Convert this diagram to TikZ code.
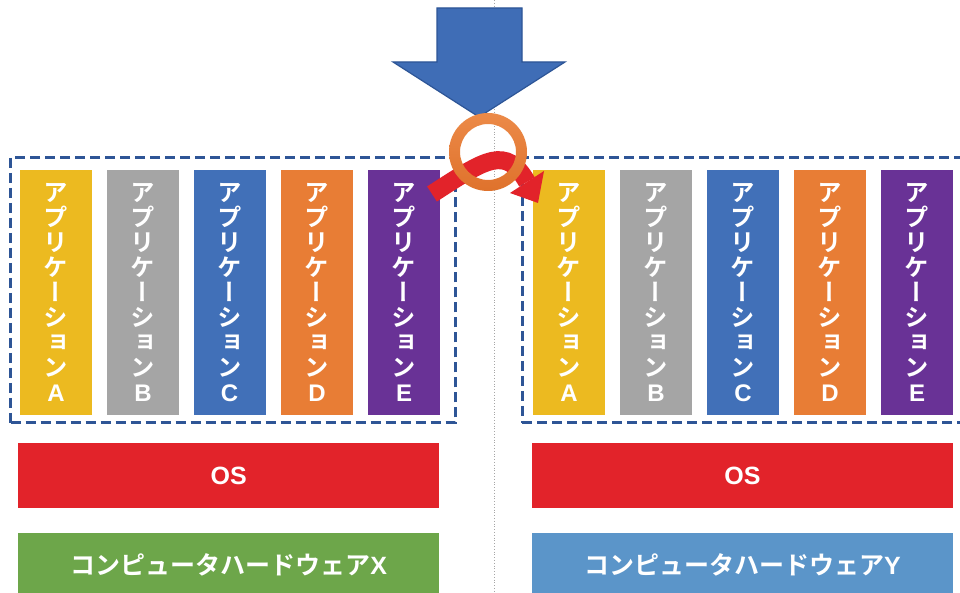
\documentclass[tikz,border=0pt]{standalone}
\usepackage{fontspec}
\newfontfamily\jp{Noto Sans CJK JP Bold}
\newfontfamily\jpv[RawFeature=+vert]{Noto Sans CJK JP Bold}
\newfontfamily\lat{Liberation Sans}
\usetikzlibrary{arrows.meta}
\definecolor{cyel}{HTML}{ECBA20}
\definecolor{cgray}{HTML}{A5A5A5}
\definecolor{cblue}{HTML}{4170B8}
\definecolor{corange}{HTML}{E87D35}
\definecolor{cpurple}{HTML}{693296}
\definecolor{cred}{HTML}{E2232A}
\definecolor{cgreen}{HTML}{6DA64A}
\definecolor{clblue}{HTML}{5B95C9}
\definecolor{cdash}{HTML}{2E5596}
\definecolor{carrow}{HTML}{3F6DB6}
\definecolor{carrowedge}{HTML}{2D5597}
\definecolor{cringtop}{HTML}{EC8A48}
\definecolor{cringbot}{HTML}{DF722C}
\tikzset{
  appbar/.style={fill=#1, draw=none, minimum width=72pt, minimum height=245pt, inner sep=0pt,
    text=white, align=center, font={\jpv\fontsize{24.5}{25}\selectfont}},
  wide/.style={fill=#1, draw=none, minimum width=421pt, minimum height=65pt, inner sep=0pt,
    text=white, font={\jp\fontsize{25}{28}\selectfont}},
  dashbox/.style={draw=cdash, line width=3pt, dash pattern=on 10pt off 5pt, fill=none},
}
\newcommand{\appname}[1]{ア\\プ\\リ\\ケ\\ー\\シ\\ョ\\ン\\{\lat\bfseries\fontsize{24}{25}\selectfont #1}}
\begin{document}
\begin{tikzpicture}[x=1pt,y=1pt]
\path[use as bounding box] (0,0) rectangle (960,593);
\clip (0,0) rectangle (960,593);
\fill[white] (0,0) rectangle (960,593);
% divider
\draw[gray!70, line width=0.8pt, dotted] (494,593) -- (494,0);
% dashed boxes
\node[dashbox, minimum width=444.5pt, minimum height=265.5pt, inner sep=0pt] (boxL) at (232.75,302.75) {};
\node[dashbox, minimum width=448pt, minimum height=265.5pt, inner sep=0pt] (boxR) at (746,302.75) {};
% left apps
\node[appbar=cyel] (la) at (56,300.5) {\appname{A}};
\node[appbar=cgray] (lb) at (143,300.5) {\appname{B}};
\node[appbar=cblue] (lc) at (229.5,300.5) {\appname{C}};
\node[appbar=corange] (ld) at (317,300.5) {\appname{D}};
\node[appbar=cpurple] (le) at (404,300.5) {\appname{E}};
% right apps
\node[appbar=cyel] (ra) at (569,300.5) {\appname{A}};
\node[appbar=cgray] (rb) at (656,300.5) {\appname{B}};
\node[appbar=cblue] (rc) at (743,300.5) {\appname{C}};
\node[appbar=corange] (rd) at (830,300.5) {\appname{D}};
\node[appbar=cpurple] (re) at (917,300.5) {\appname{E}};
% OS
\node[wide=cred] (osL) at (228.75,117.5) {\lat\bfseries OS};
\node[wide=cred] (osR) at (742.5,117.5) {\lat\bfseries OS};
% hardware
\node[wide=cgreen, minimum height=64pt] (hwL) at (228.75,28) {コンピュータハードウェア{\lat\bfseries X}};
\node[wide=clblue, minimum height=64pt] (hwR) at (742.5,28) {コンピュータハードウェア{\lat\bfseries Y}};
% big arrow
\draw[fill=carrow, draw=carrowedge, line width=1.2pt, line join=miter]
  (437,585) -- (522,585) -- (522,531) -- (565,531) -- (479,476) -- (393,531) -- (437,531) -- cycle;
% red curved arrow
\coordinate (cs) at (432,399);
\coordinate (ce) at (527,411);
\draw[cred, line width=18pt] (cs) .. controls (486,434) and (506,448) .. (ce);
\fill[cred] (510,400) -- (544,422) -- (538,390) -- cycle;
% ring
\coordinate (ring) at (488,441);
\path[top color=cringtop, bottom color=cringbot, even odd rule]
  (ring) circle (39) (ring) circle (28);
\end{tikzpicture}
\end{document}
